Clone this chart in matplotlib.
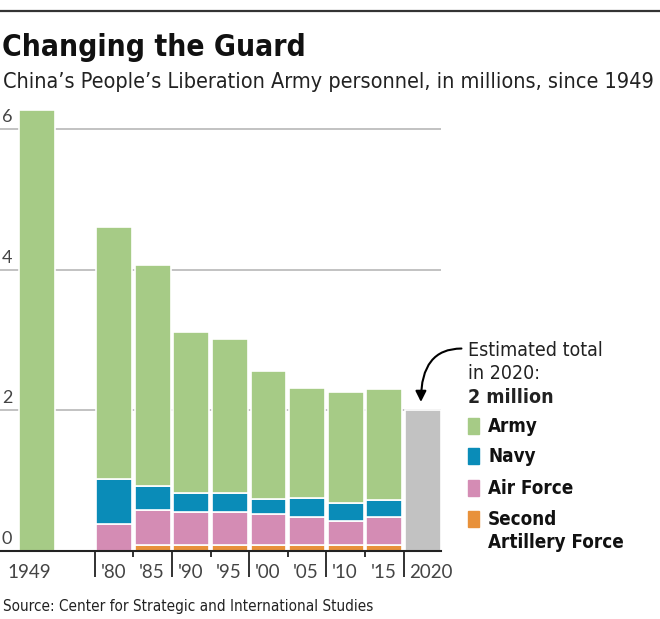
import numpy as np
import matplotlib.pyplot as plt
from matplotlib.patches import Rectangle

# data (millions of personnel)
years = ['1949', "'80", "'85", "'90", "'95", "'00", "'05", "'10", "'15", '2020']
slots = [0, 2, 3, 4, 5, 6, 7, 8, 9, 10]
second_artillery = [0, 0, 0.09, 0.09, 0.09, 0.09, 0.09, 0.09, 0.09, 0]
air_force = [0, 0.39, 0.49, 0.47, 0.47, 0.43, 0.40, 0.34, 0.40, 0]
navy = [0, 0.63, 0.34, 0.26, 0.26, 0.22, 0.26, 0.25, 0.24, 0]
army = [6.28, 3.59, 3.15, 2.29, 2.19, 1.82, 1.57, 1.58, 1.57, 0]
estimate = [0, 0, 0, 0, 0, 0, 0, 0, 0, 2.0]
legend_labels = [['Army'], ['Navy'], ['Air Force'], ['Second', 'Artillery Force']]

c_army = '#a6cb86'
c_navy = '#0a8cb8'
c_air = '#d48cb4'
c_art = '#e8913a'
c_est = '#c2c2c2'

COND = dict(family='DejaVu Sans', stretch='condensed')
TICKF = dict(family='Lato')

W, H = 660, 619
fig = plt.figure(figsize=(W / 100, H / 100), dpi=100)

def fx(px):
    return px / W

def fy(py):
    return 1 - py / H

# axes: pixel x 0..441, y 0 at 551
x0, x1 = -0.96, 10.47
y0, y1 = 0, 6.4
ax_h = (y1 - y0) * 70.3
ax = fig.add_axes([0, fy(551), fx(441), ax_h / H])
ax.set_xlim(x0, x1)
ax.set_ylim(y0, y1)

# gridlines and their labels
for v in [0, 2, 4, 6]:
    if v:
        ax.axhline(v, color='#bdbdbd', lw=1.3, zorder=0)
    ax.text(x0 + 0.05, v + 0.06, str(v), fontsize=13, color='#444444',
            ha='left', va='bottom', **TICKF)

x = np.array(slots, dtype=float)
bw = 0.93
kw = dict(width=bw, edgecolor='white', linewidth=1.2, zorder=2)
bottom = np.zeros(len(x))
ax.bar(x, second_artillery, bottom=bottom, color=c_art, **kw)
bottom += second_artillery
ax.bar(x, air_force, bottom=bottom, color=c_air, **kw)
bottom += air_force
ax.bar(x, navy, bottom=bottom, color=c_navy, **kw)
bottom += navy
ax.bar(x, army, bottom=bottom, color=c_army, **kw)
ax.bar(x, estimate, color=c_est, **kw)

for s in ['top', 'right', 'left']:
    ax.spines[s].set_visible(False)
ax.spines['bottom'].set_color('#222222')
ax.spines['bottom'].set_linewidth(1.5)
ax.set_yticks([])

# boundary ticks between bars: long at decades, short in between
bounds = [(slots[i] + slots[i + 1]) / 2 for i in range(1, len(slots) - 1)]
bounds = [slots[1] - 0.5] + bounds
ax.set_xticks(bounds[0::2])
ax.set_xticklabels([])
ax.tick_params(axis='x', direction='out', length=19, width=1.3, color='#222222')
ax.set_xticks(bounds[1::2], minor=True)
ax.tick_params(axis='x', which='minor', direction='out', length=4.5, width=1.3, color='#222222')

for i, lab in zip(slots, years):
    xl = i - 0.78 if i == 0 else i - 0.36
    ax.text(xl, -0.30, lab, fontsize=13.5, color='#444444', ha='left', va='center',
            clip_on=False, **TICKF)

# header
fig.add_artist(plt.Line2D([0, 1], [fy(11), fy(11)], color='#333333', lw=1.6))
fig.text(fx(2), fy(56), 'Changing the Guard', fontsize=21.5, fontweight='bold',
         color='#111111', ha='left', va='baseline', **COND)
fig.text(fx(3), fy(88), 'China\u2019s People\u2019s Liberation Army personnel, in millions, since 1949',
         fontsize=15.5, color='#222222', ha='left', va='baseline', **COND)
fig.text(fx(3), fy(611), 'Source: Center for Strategic and International Studies',
         fontsize=11, color='#222222', ha='left', va='baseline', **COND)

# annotation for 2020
for line, py, wt in [('Estimated total', 356, 'normal'), ('in 2020:', 379, 'normal'),
                     ('2 million', 403, 'bold')]:
    fig.text(fx(468), fy(py), line, fontsize=14, fontweight=wt, color='#222222',
             ha='left', va='baseline', **COND)
ax.annotate('', xy=(9.95, 2.12), xytext=(11.0, 2.88),
            arrowprops=dict(arrowstyle='-|>', color='black', lw=1.5, mutation_scale=16,
                            connectionstyle='angle3,angleA=0,angleB=90',
                            shrinkA=0, shrinkB=0), annotation_clip=False)

# legend
for lines, col, py in zip(legend_labels, [c_army, c_navy, c_air, c_art], [432, 462, 494, 525]):
    fig.add_artist(Rectangle((fx(468), fy(py + 2)), fx(11), 16 / H, color=col,
                             transform=fig.transFigure))
    for k, line in enumerate(lines):
        fig.text(fx(488), fy(py + 23 * k), line, fontsize=13.5, fontweight='bold',
                 color='#111111', ha='left', va='baseline', **COND)

fig.savefig('out.png', dpi=100)
